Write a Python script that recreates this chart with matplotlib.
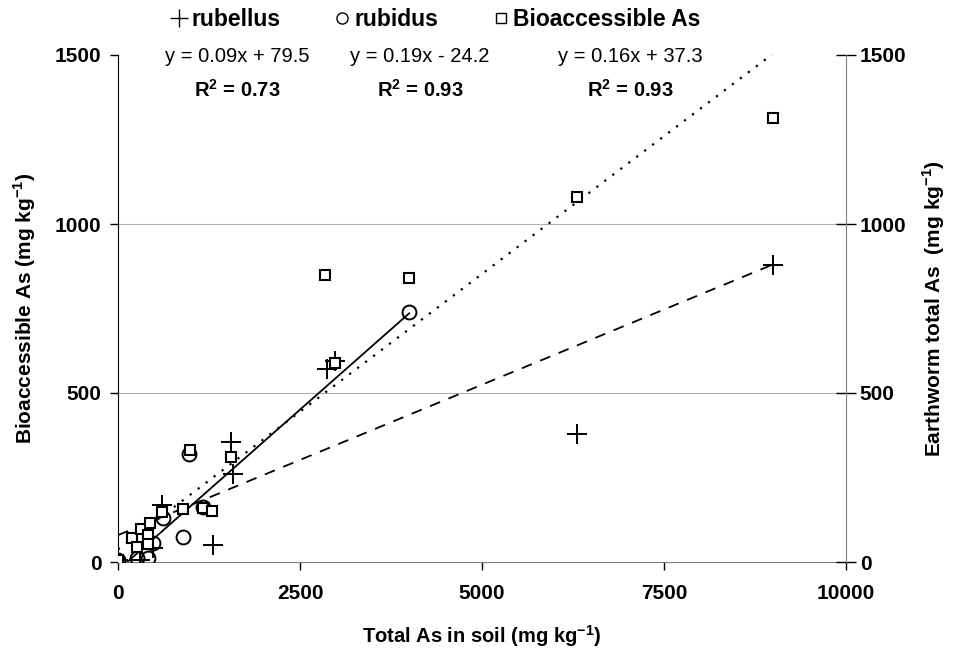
import numpy as np
import matplotlib; matplotlib.use('Agg')
import matplotlib.pyplot as plt
from matplotlib.lines import Line2D

plt.rcParams['font.family'] = ['Liberation Sans', 'DejaVu Sans']
plt.rcParams['mathtext.fontset'] = 'custom'
plt.rcParams['mathtext.rm'] = 'Liberation Sans'
plt.rcParams['mathtext.bf'] = 'Liberation Sans:bold'

# rubellus (+)
rub_x = [0, 300, 480, 600, 1300, 1550, 1580, 2870, 2980, 6300, 9000]
rub_y = [5, 5, 40, 170, 50, 355, 260, 570, 595, 380, 880]
# rubidus (o)
rbd_x = [0, 260, 415, 480, 620, 890, 975, 1170, 4000]
rbd_y = [5, 12, 12, 55, 130, 75, 320, 163, 740]
# bioaccessible As (square)
bio_x = [0, 190, 260, 310, 415, 415, 445, 600, 895, 985, 1170, 1290, 1550, 2850, 2980, 4000, 6300, 9000]
bio_y = [5, 70, 45, 98, 80, 52, 114, 149, 157, 330, 160, 152, 310, 850, 590, 840, 1080, 1315]

# trend lines: slope, intercept, x range
fit_rub = (0.089, 79.5, 0, 9000)
fit_rbd = (0.19, -24.2, 0, 4000)
fit_bio = (0.163, 37.3, 0, 9000)

eq_text = ['y = 0.09x + 79.5', 'y = 0.19x - 24.2', 'y = 0.16x + 37.3']
r2_text = ['0.73', '0.93', '0.93']

fig = plt.figure(figsize=(9.58, 6.57), dpi=100)
ax = fig.add_axes([118/958, 1-562/657, (846-118)/958, (562-55)/657])

for yy in [500, 1000]:
    ax.axhline(yy, color='#b0b0b0', lw=0.8, zorder=0)

def trend(f, ls, lw):
    xs = np.array([f[2], f[3]])
    ax.plot(xs, f[0]*xs + f[1], color='black', lw=lw, ls=ls, zorder=2)

trend(fit_rub, (0, (6, 5)), 1.3)
trend(fit_rbd, '-', 1.3)
trend(fit_bio, (0, (1, 3.5)), 1.6)

ax.plot(rub_x, rub_y, ls='none', marker='+', ms=15, mew=1.4, color='black', zorder=3)
ax.plot(rbd_x, rbd_y, ls='none', marker='o', ms=10, mew=1.4, mfc='none', mec='black', zorder=3)
ax.plot(bio_x, bio_y, ls='none', marker='s', ms=7.5, mew=1.5, mfc='white', mec='black', zorder=4)

ax.set_xlim(0, 10000)
ax.set_ylim(0, 1500)
ax.set_xticks([0, 2500, 5000, 7500, 10000])
ax.set_yticks([0, 500, 1000, 1500])
ax.tick_params(direction='out', length=6, width=1, labelsize=15)
ax.tick_params(axis='x', pad=10)
ax.tick_params(axis='y', pad=6)
for lab in ax.get_xticklabels() + ax.get_yticklabels():
    lab.set_fontweight('bold')
ax.spines['top'].set_visible(False)
ax.spines['right'].set_visible(False)
ax.spines['bottom'].set_color('#808080')
ax.spines['left'].set_color('black')

ax2 = ax.twinx()
ax2.set_ylim(0, 1500)
ax2.set_yticks([0, 500, 1000, 1500])
ax2.tick_params(direction='inout', length=14, width=1, labelsize=15, pad=3)
for lab in ax2.get_yticklabels():
    lab.set_fontweight('bold')
for s in ['top', 'left', 'bottom']:
    ax2.spines[s].set_visible(False)
ax2.spines['right'].set_color('#808080')

ax.set_xlabel('Total As in soil (mg kg$^{\\mathbf{-1}}$)', fontsize=14.5, fontweight='bold', labelpad=14)
ax.set_ylabel('Bioaccessible As (mg kg$^{\\mathbf{-1}}$)', fontsize=15, fontweight='bold', labelpad=12)
ax2.set_ylabel('Earthworm total As  (mg kg$^{\\mathbf{-1}}$)', fontsize=15, fontweight='bold', labelpad=10)

handles = [Line2D([], [], ls='none', marker='+', ms=13, mew=1, color='black'),
           Line2D([], [], ls='none', marker='o', ms=8, mew=1, mfc='none', mec='black'),
           Line2D([], [], ls='none', marker='s', ms=7, mew=1, mfc='none', mec='black')]
fig.legend(handles, ['rubellus', 'rubidus', 'Bioaccessible As'], loc='center', ncol=3,
           bbox_to_anchor=(434/958, 1-20/657), frameon=False, handletextpad=0.05,
           columnspacing=2.2, handlelength=1.0, prop={'weight': 'bold', 'size': 16.5})

eq_x = [237, 420, 630]
for i in range(3):
    fig.text(eq_x[i]/958, 1-57/657, eq_text[i], ha='center', va='center', fontsize=14.5)
    fig.text(eq_x[i]/958, 1-90/657, 'R$^{\\mathbf{2}}$ = ' + r2_text[i], ha='center', va='center',
             fontsize=14.5, fontweight='bold')

fig.savefig('out.png', dpi=100)
